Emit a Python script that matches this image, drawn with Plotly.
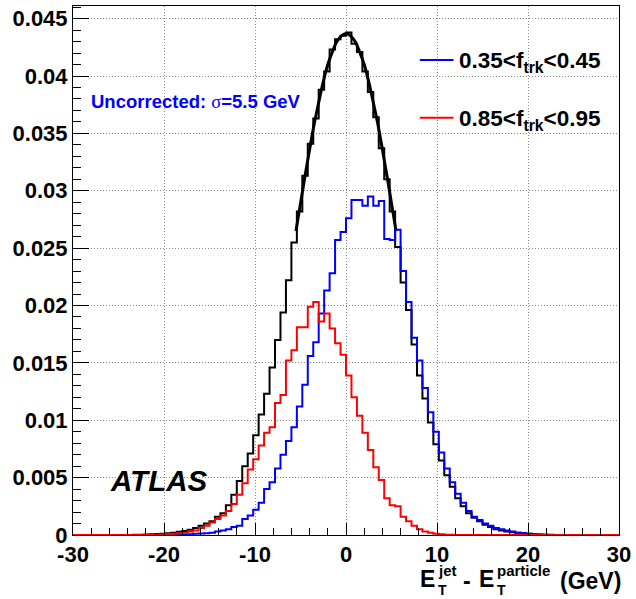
import numpy as np
import plotly.graph_objects as go

# ---- data ----
bin_lo, bin_hi, n_bins = -30.0, 30.0, 100   # 0.6 GeV bins

black_all = [
    0, 0, 0, 0, 0, 0, 0, 0, 0, 0,
    0, 0.00002, 0.00003, 0.00005, 0.00006, 0.00008, 0.0001, 0.00015, 0.0002, 0.00028,
    0.00035, 0.00045, 0.0006, 0.0008, 0.0010, 0.0012, 0.0016, 0.0019, 0.0026, 0.0035,
    0.0047, 0.0060, 0.0071, 0.0087, 0.0105, 0.0123, 0.0146, 0.0170, 0.0194, 0.0222,
    0.0255, 0.0282, 0.0313, 0.0341, 0.0363, 0.0388, 0.0404, 0.0423, 0.0432, 0.0435,
    0.0438, 0.0428, 0.0421, 0.0404, 0.0386, 0.0364, 0.0337, 0.0310, 0.0282, 0.0251,
    0.0220, 0.0196, 0.0166, 0.0139, 0.0119, 0.0098, 0.0079, 0.0065, 0.0052, 0.0042,
    0.0032, 0.0025, 0.0019, 0.0015, 0.0012, 0.0009, 0.0007, 0.0005, 0.0004, 0.0003,
    0.00025, 0.0002, 0.00015, 0.0001, 0.00007, 0.00005, 0.00003, 0.00002, 0, 0,
    0, 0, 0, 0, 0, 0, 0, 0, 0, 0,
]

blue_ftrk_035_045 = [
    0, 0, 0, 0, 0, 0, 0, 0, 0, 0,
    0, 0, 0, 0, 0, 0, 0, 0, 0.00002, 0.00003,
    0.00005, 0.00007, 0.0001, 0.00012, 0.00015, 0.0002, 0.0003, 0.0004, 0.0005, 0.0007,
    0.0008, 0.0014, 0.0017, 0.0022, 0.0028, 0.0040, 0.0046, 0.0058, 0.0070, 0.0082,
    0.0094, 0.0112, 0.0131, 0.0156, 0.0168, 0.0193, 0.0213, 0.0228, 0.0257, 0.0264,
    0.0276, 0.0292, 0.0292, 0.0287, 0.0295, 0.0287, 0.0291, 0.0258, 0.0257, 0.0266,
    0.0230, 0.0203, 0.0172, 0.0152, 0.0128, 0.0107, 0.0090, 0.0072, 0.0058, 0.0046,
    0.0036, 0.0028, 0.0021, 0.0016, 0.0013, 0.0010, 0.0008, 0.0006, 0.0005, 0.0004,
    0.0003, 0.0002, 0.00015, 0.0001, 0.00006, 0.00004, 0.00002, 0, 0, 0,
    0, 0, 0, 0, 0, 0, 0, 0, 0, 0,
]

red_ftrk_085_095 = [
    0, 0, 0, 0, 0, 0, 0, 0, 0, 0,
    0, 0, 0, 0, 0.00002, 0.00003, 0.00005, 0.00008, 0.0001, 0.00015,
    0.0002, 0.0003, 0.0004, 0.0006, 0.0008, 0.0011, 0.0014, 0.0017, 0.0021, 0.0027,
    0.0035, 0.0045, 0.0057, 0.0066, 0.0078, 0.0089, 0.0094, 0.0115, 0.0122, 0.0152,
    0.0161, 0.0181, 0.0181, 0.0199, 0.0203, 0.0186, 0.0193, 0.0180, 0.0167, 0.0157,
    0.0139, 0.0120, 0.0104, 0.0089, 0.0074, 0.0059, 0.0048, 0.0032, 0.0026, 0.0025,
    0.0016, 0.0012, 0.0008, 0.0005, 0.0003, 0.0002, 0.0001, 0.00006, 0.00003, 0.00002,
    0, 0, 0, 0, 0, 0, 0, 0, 0, 0,
    0, 0, 0, 0, 0, 0, 0, 0, 0, 0,
    0, 0, 0, 0, 0, 0, 0, 0, 0, 0,
]

# smooth fit curve over the core of the black distribution
fit_x = [-5.5, -5.0, -4.5, -4.0, -3.5, -3.0, -2.5, -2.0, -1.5, -1.0, -0.5, 0.0,
         0.5, 1.0, 1.5, 2.0, 2.5, 3.0, 3.5, 4.0, 4.5, 5.0, 5.5]
fit_y = [0.0265, 0.0289, 0.0313, 0.0336, 0.0358, 0.0377, 0.0395, 0.0410, 0.0421, 0.0430, 0.0435, 0.0437,
         0.0435, 0.0430, 0.0421, 0.0410, 0.0395, 0.0377, 0.0358, 0.0336, 0.0313, 0.0289, 0.0265]

x_tickvals = [-30, -20, -10, 0, 10, 20, 30]
x_ticktext = ["-30", "-20", "-10", "0", "10", "20", "30"]
y_tickvals = [0, 0.005, 0.01, 0.015, 0.02, 0.025, 0.03, 0.035, 0.04, 0.045]
y_ticktext = ["0", "0.005", "0.01", "0.015", "0.02", "0.025", "0.03", "0.035", "0.04", "0.045"]

legend_labels = ["0.35&lt;f<sub>trk</sub>&lt;0.45", "0.85&lt;f<sub>trk</sub>&lt;0.95"]
legend_colors = ["#0000ff", "#ff0000"]

# ---- figure ----
W, H = 636, 599
L, R, T, B = 73, 12, 5, 64
pw, ph = W - L - R, H - T - B

def px(xp):
    return (xp - L) / pw

def py(yp):
    return (H - B - yp) / ph

edges = np.linspace(bin_lo, bin_hi, n_bins + 1)

def step_trace(vals, color):
    ys = list(vals) + [vals[-1]]
    return go.Scatter(x=edges, y=ys, mode="lines", line=dict(color=color, width=2, shape="hv"),
                      showlegend=False, hoverinfo="skip")

fig = go.Figure()
fig.add_trace(step_trace(black_all, "#000000"))
fig.add_trace(go.Scatter(x=fit_x, y=fit_y, mode="lines", line=dict(color="#000000", width=3, shape="spline"),
                         showlegend=False, hoverinfo="skip"))
fig.add_trace(step_trace(blue_ftrk_035_045, "#0000ff"))
fig.add_trace(step_trace(red_ftrk_085_095, "#ff0000"))

FONT = "Liberation Sans"
fig.update_layout(
    width=W, height=H,
    margin=dict(l=L, r=R, t=T, b=B),
    paper_bgcolor="white", plot_bgcolor="white",
    font=dict(family=FONT, color="black"),
    showlegend=False,
)
axis_common = dict(
    showline=True, mirror=True, linecolor="black", linewidth=1,
    showgrid=True, gridcolor="#888888", gridwidth=1, griddash="1px,2px",
    zeroline=False, ticks="inside", tickcolor="black", ticklabeloverflow="allow",
    tickfont=dict(family=FONT, size=22, color="black", weight="bold"),
)
fig.update_xaxes(range=[bin_lo, bin_hi], tickmode="array", tickvals=x_tickvals, ticktext=x_ticktext,
                 ticklen=12, minor=dict(ticks="inside", tick0=0, dtick=2, ticklen=7, tickcolor="black", showgrid=False),
                 **axis_common)
fig.update_yaxes(range=[0, 0.0461], tickmode="array", tickvals=y_tickvals, ticktext=y_ticktext,
                 ticklen=16, minor=dict(ticks="inside", tick0=0, dtick=0.001, ticklen=8, tickcolor="black", showgrid=False),
                 **axis_common)

ann = []
def text(xp, yp, s, size, color="black", xanchor="left"):
    ann.append(dict(x=px(xp), y=py(yp), xref="paper", yref="paper", text=s, showarrow=False,
                    xanchor=xanchor, yanchor="middle", font=dict(family=FONT, size=size, color=color)))

text(89, 101, "<b>Uncorrected: </b><span style='font-family:Liberation Serif'>σ</span><b>=5.5 GeV</b>", 18.5, "#0000ff")
text(108, 480, "<b><i>ATLAS</i></b>", 29.5)

shapes = []
for i, (lab, col) in enumerate(zip(legend_labels, legend_colors)):
    yl = [59, 117][i]
    shapes.append(dict(type="line", xref="paper", yref="paper", x0=px(423), x1=px(457), y0=py(yl), y1=py(yl),
                       line=dict(color=col, width=2)))
    text(461, yl + 2, "<b>" + lab + "</b>", 22.5)

# axis title: E_T^jet - E_T^particle (GeV)
text(421, 579, "<b>E</b>", 23)
text(439, 571, "<b>jet</b>", 15)
text(439, 590, "<b>T</b>", 14)
text(465, 581, "<b>-</b>", 23)
text(481, 579, "<b>E</b>", 23)
text(499, 571, "<b>particle</b>", 15)
text(499, 590, "<b>T</b>", 14)
text(562, 581, "<b>(GeV)</b>", 23)

fig.update_layout(annotations=ann, shapes=shapes)
fig.write_html("out.html")
